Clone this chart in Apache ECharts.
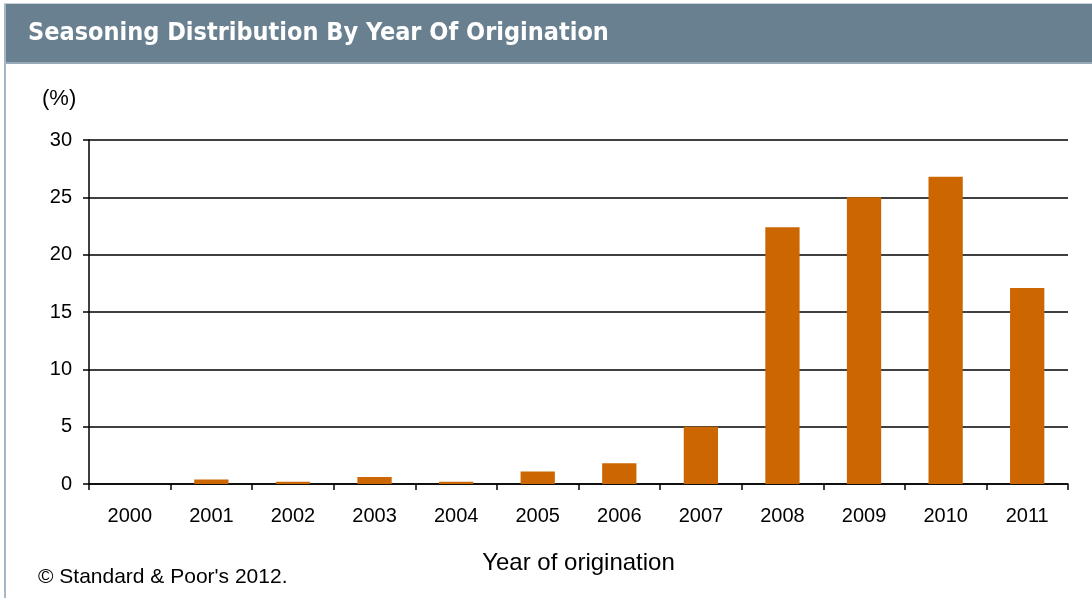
<!DOCTYPE html>
<html>
<head>
<meta charset="utf-8">
<style>
  html, body { margin: 0; padding: 0; background: #fff; }
  #chart { width: 1092px; height: 598px; }
</style>
<script src="https://cdn.jsdelivr.net/npm/echarts@6/dist/echarts.min.js"></script>
</head>
<body>
<div id="chart"></div>
<script>
const categories = ['2000','2001','2002','2003','2004','2005','2006','2007','2008','2009','2010','2011'];
const values = [0, 0.4, 0.2, 0.6, 0.2, 1.1, 1.8, 5.0, 22.4, 25.0, 26.8, 17.1];
const yTicks = { min: 0, max: 30, interval: 5 };
const titleText = 'Seasoning Distribution By Year Of Origination';
const unitText = '(%)';
const xName = 'Year of origination';
const sourceText = '\u00A9 Standard & Poor\'s 2012.';

const chart = echarts.init(document.getElementById('chart'));
const font = '"Liberation Sans", Arial, sans-serif';
chart.setOption({
  animation: false,
  backgroundColor: '#ffffff',
  graphic: [
    { type: 'rect', shape: { x: 4, y: 4, width: 1088, height: 60 }, style: { fill: '#68808F' }, z: 0 },
    { type: 'rect', shape: { x: 4, y: 62, width: 1088, height: 2 }, style: { fill: '#98AAB8' }, z: 1 },
    { type: 'rect', shape: { x: 4, y: 3, width: 1088, height: 1 }, style: { fill: '#C8D0D8' }, z: 1 },
    { type: 'rect', shape: { x: 4, y: 4, width: 2, height: 594 }, style: { fill: '#A6B6C6' }, z: 1 },
    { type: 'text', left: 28, top: 21, z: 2,
      style: { text: titleText, fill: '#ffffff', font: 'bold 25px "Liberation Sans Narrow", "DejaVu Sans Condensed", "Liberation Sans", sans-serif' } },
    { type: 'text', left: 42, top: 88, z: 2,
      style: { text: unitText, fill: '#000', font: '22px ' + font } },
    { type: 'text', left: 38, top: 567, z: 2,
      style: { text: sourceText, fill: '#000', font: '21px ' + font } }
  ],
  grid: { left: 89, right: 24, top: 140, bottom: 114 },
  xAxis: {
    type: 'category',
    data: categories,
    name: xName,
    nameLocation: 'middle',
    nameGap: 67,
    nameTextStyle: { color: '#000', fontSize: 24, fontFamily: font },
    axisLine: { lineStyle: { color: '#000', width: 1.5 } },
    axisTick: { show: true, alignWithLabel: false, length: 6, lineStyle: { color: '#000', width: 1.5 } },
    axisLabel: { color: '#000', fontSize: 20, fontFamily: font, margin: 22 }
  },
  yAxis: {
    type: 'value',
    min: yTicks.min, max: yTicks.max, interval: yTicks.interval,
    axisLine: { show: true, lineStyle: { color: '#000', width: 1.5 } },
    axisTick: { show: true, length: 6, lineStyle: { color: '#000', width: 1.5 } },
    axisLabel: { color: '#000', fontSize: 20, fontFamily: font, margin: 17 },
    splitLine: { show: true, lineStyle: { color: '#000', width: 1.5 } }
  },
  series: [{
    type: 'bar',
    data: values,
    barWidth: '42%',
    itemStyle: { color: '#CC6600' },
    z: 3
  }]
});
</script>
</body>
</html>
